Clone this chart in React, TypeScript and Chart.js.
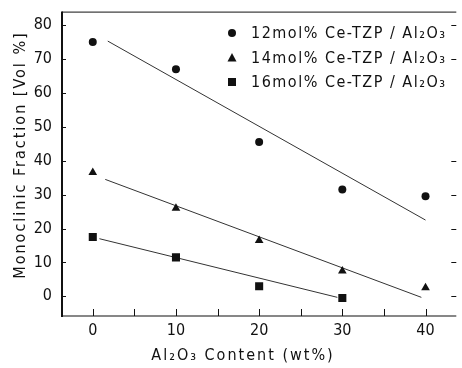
import React, { useEffect, useRef } from "react";
import { Chart, registerables } from "chart.js";

Chart.register(...registerables);

const alumina = [0, 10, 20, 30, 40];
const ce12 = [75, 67, 45.5, 31.5, 29.5];
const ce14 = [36.5, 26, 16.5, 7.5, 2.5];
const ce16 = [17.5, 11.5, 3, -0.5];
const fit12 = [[1.8, 75.3], [40, 22.5]];
const fit14 = [[1.5, 34.5], [39.5, -0.3]];
const fit16 = [[0.8, 17], [29.4, -0.3]];
const seriesLabels = ["12mol% Ce-TZP / Al₂O₃", "14mol% Ce-TZP / Al₂O₃", "16mol% Ce-TZP / Al₂O₃"];
const xTicks = [0, 10, 20, 30, 40];
const yTicks = [0, 10, 20, 30, 40, 50, 60, 70, 80];
const xTitle = "Al₂O₃ Content (wt%)";
const yTitle = "Monoclinic Fraction [Vol %]";

const FONT = '"DejaVu Sans Condensed", "Liberation Sans Narrow", "DejaVu Sans", sans-serif';
const INK = "#111";

function drawMarker(ctx: CanvasRenderingContext2D, style: string, x: number, y: number) {
  ctx.beginPath();
  if (style === "circle") {
    ctx.arc(x, y, 4, 0, Math.PI * 2);
  } else if (style === "triangle") {
    ctx.moveTo(x, y - 5);
    ctx.lineTo(x + 4.5, y + 3.5);
    ctx.lineTo(x - 4.5, y + 3.5);
    ctx.closePath();
  } else {
    ctx.rect(x - 4, y - 4, 8, 8);
  }
  ctx.fill();
}

const decor = {
  id: "decor",
  afterDraw(chart: any) {
    const ctx = chart.ctx as CanvasRenderingContext2D;
    const { left, right, top, bottom } = chart.chartArea;
    const xs = chart.scales.x;
    const ys = chart.scales.y;
    ctx.save();
    ctx.strokeStyle = INK;
    // left axis
    ctx.lineWidth = 2;
    ctx.beginPath();
    ctx.moveTo(left, top);
    ctx.lineTo(left, bottom + 1);
    ctx.stroke();
    // top line
    ctx.lineWidth = 1;
    ctx.beginPath();
    ctx.moveTo(left, top + 0.5);
    ctx.lineTo(right, top + 0.5);
    ctx.stroke();
    // bottom axis
    ctx.lineWidth = 1.2;
    ctx.beginPath();
    ctx.moveTo(left, bottom);
    ctx.lineTo(right, bottom);
    ctx.stroke();
    // y ticks inward
    ctx.lineWidth = 1;
    yTicks.forEach((v) => {
      const py = Math.round(ys.getPixelForValue(v)) + 0.5;
      ctx.beginPath();
      ctx.moveTo(left, py);
      ctx.lineTo(left + 4, py);
      ctx.stroke();
    });
    // right ticks
    [80, 70, 40, 30, 20, 10, 0].forEach((v) => {
      const py = Math.round(ys.getPixelForValue(v)) + 0.5;
      ctx.beginPath();
      ctx.moveTo(right - 5, py);
      ctx.lineTo(right, py);
      ctx.stroke();
    });
    // x ticks inward (every 5)
    for (let v = 0; v <= 40; v += 5) {
      const px = Math.round(xs.getPixelForValue(v)) + 0.5;
      ctx.beginPath();
      ctx.moveTo(px, bottom);
      ctx.lineTo(px, bottom - 7);
      ctx.stroke();
    }
    // titles
    ctx.fillStyle = INK;
    ctx.font = `16px ${FONT}`;
    (ctx as any).letterSpacing = "2px";
    ctx.textAlign = "center";
    ctx.textBaseline = "middle";
    ctx.fillText(xTitle, 243, 356);
    ctx.save();
    ctx.translate(21, 155);
    ctx.rotate(-Math.PI / 2);
    ctx.fillText(yTitle, 0, 0);
    ctx.restore();
    // legend
    (ctx as any).letterSpacing = "1.5px";
    const styles = ["circle", "triangle", "rect"];
    const rows = [33, 58, 82];
    ctx.textAlign = "left";
    seriesLabels.forEach((lab, i) => {
      drawMarker(ctx, styles[i], 232, rows[i]);
      ctx.fillText(lab, 251, rows[i] + 1);
    });
    ctx.restore();
  },
};

export default function App() {
  const ref = useRef<HTMLCanvasElement | null>(null);
  useEffect(() => {
    document.body.style.margin = "0";
    const canvas = ref.current!;
    const pts = (ys: number[]) => ys.map((y, i) => ({ x: alumina[i], y }));
    const fit = (f: number[][]) => f.map(([x, y]) => ({ x, y }));
    const lineDs = (f: number[][]) => ({
      type: "line" as const,
      data: fit(f),
      borderColor: "#333",
      borderWidth: 1,
      pointRadius: 0,
      showLine: true,
      order: 2,
    });
    const scatDs = (d: number[], style: string, r: number) => ({
      type: "scatter" as const,
      data: pts(d),
      pointStyle: style,
      pointRadius: r,
      backgroundColor: INK,
      borderColor: INK,
      borderWidth: 0,
      order: 1,
    });
    const chart = new Chart(canvas, {
      type: "scatter",
      data: {
        datasets: [
          lineDs(fit12),
          lineDs(fit14),
          lineDs(fit16),
          scatDs(ce12, "circle", 4),
          scatDs(ce14, "triangle", 5),
          scatDs(ce16, "rect", 5.7),
        ] as any,
      },
      options: {
        animation: false,
        responsive: false,
        events: [],
        layout: { padding: { top: 8, right: 2, left: 0, bottom: 0 } },
        plugins: { legend: { display: false }, tooltip: { enabled: false } },
        scales: {
          x: {
            type: "linear",
            min: -3.7,
            max: 43.7,
            grid: { display: false },
            border: { display: false },
            afterBuildTicks: (s: any) => {
              s.ticks = xTicks.map((v) => ({ value: v }));
            },
            afterFit: (s: any) => {
              s.height = 52;
            },
            ticks: { color: INK, font: { family: FONT, size: 16 }, padding: -3, maxRotation: 0 },
          },
          y: {
            type: "linear",
            min: -5.8,
            max: 84,
            grid: { display: false },
            border: { display: false },
            afterBuildTicks: (s: any) => {
              s.ticks = yTicks.map((v) => ({ value: v }));
            },
            afterFit: (s: any) => {
              s.width = 62;
            },
            ticks: { color: INK, font: { family: FONT, size: 16 }, padding: 2 },
          },
        },
      },
      plugins: [decor],
    });
    return () => chart.destroy();
  }, []);
  return (
    <div style={{ position: "absolute", left: 0, top: 0, width: 462, height: 368, background: "#fff" }}>
      <canvas ref={ref} width={462} height={368} style={{ display: "block" }} />
    </div>
  );
}
